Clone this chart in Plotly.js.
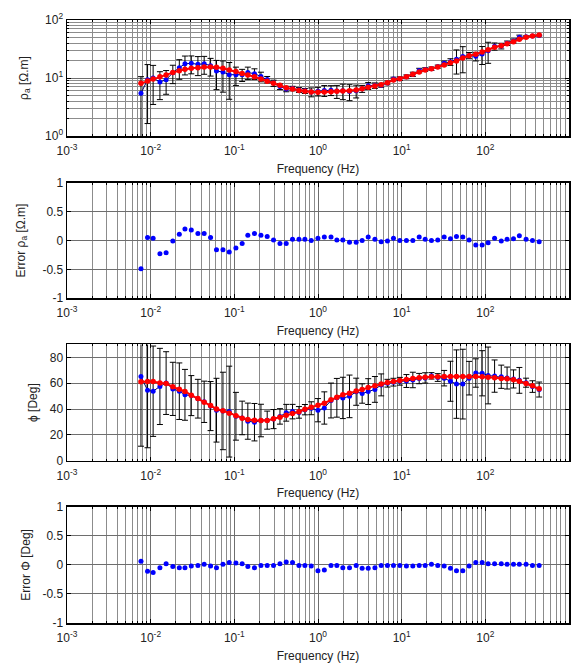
<!DOCTYPE html>
<html>
<head>
<meta charset="utf-8">
<script src="https://cdn.plot.ly/plotly-3.0.1.min.js"></script>
<style>
  html, body { margin: 0; padding: 0; background: #fff; }
  #mtFit { width: 574px; height: 666px; }
</style>
</head>
<body>
<div id="mtFit"></div>
<script>
// frequencies (Hz)
var freq = [0.00766, 0.00918, 0.0107, 0.0129, 0.0153, 0.0184, 0.0220, 0.0257, 0.0306, 0.0367,
    0.0436, 0.0520, 0.0612, 0.0731, 0.0869, 0.1045, 0.124, 0.145, 0.174, 0.208,
    0.247, 0.294, 0.351, 0.417, 0.496, 0.592, 0.697, 0.830, 0.998, 1.19,
    1.43, 1.68, 1.98, 2.38, 2.86, 3.37, 3.98, 4.79, 5.69, 6.76,
    7.98, 9.51, 11.4, 13.6, 16.2, 19.1, 22.7, 27.0, 32.2, 38.3,
    45.2, 53.8, 64.0, 76.9, 91.6, 108, 129, 155, 182, 217,
    255, 307, 366, 440];

// apparent resistivity: observed, its error bar, model response
var rhoObs = [5.44, 9.34, 10.0, 8.54, 9.34, 12.3, 15.1, 17.6, 17.9, 17.2,
    17.6, 16.3, 13.2, 12.7, 11.4, 11.4, 11.4, 12.4, 11.9, 10.6,
    9.43, 8.17, 7.12, 6.49, 6.59, 6.24, 6.01, 5.74, 5.90, 6.11,
    6.18, 5.95, 6.03, 5.87, 6.03, 6.55, 7.35, 7.43, 7.53, 8.24,
    9.64, 9.75, 10.5, 11.6, 13.5, 14.0, 14.5, 15.7, 17.9, 19.0,
    21.1, 23.5, 24.5, 23.7, 26.0, 29.6, 35.2, 35.7, 39.9, 43.6,
    50.4, 51.3, 53.0, 54.0];
var rhoErr = [5.1, 7.7, 6.5, 4.3, 4.1, 4.3, 5.6, 6.3, 6.1, 6.2,
    6.0, 5.5, 6.9, 7.0, 7.1, 4.0, 2.7, 3.0, 2.5, 2.0,
    1.2, 1.0, 0.8, 0.7, 0.6, 0.6, 0.6, 1.0, 1.0, 1.3,
    1.2, 1.5, 1.8, 1.8, 1.5, 0.9, 1.0, 0.8, 0.6, 0.6,
    0.7, 0.7, 0.8, 1.0, 1.2, 1.0, 1.0, 1.0, 1.7, 2.5,
    9.4, 11.2, 3.0, 4.0, 8.9, 11.7, 5.0, 4.0, 3.5, 3.5,
    4.5, 2.0, 1.0, 1.0];
var rhoModel = [8.09, 8.87, 9.61, 10.5, 11.3, 12.4, 13.4, 14.1, 14.7, 15.1,
    15.5, 15.5, 15.3, 14.7, 13.7, 12.9, 12.0, 11.3, 10.5, 9.61,
    8.77, 8.09, 7.48, 6.81, 6.46, 6.12, 5.89, 5.74, 5.66, 5.74,
    5.81, 5.89, 5.97, 6.05, 6.21, 6.55, 6.91, 7.28, 7.68, 8.32,
    9.25, 9.75, 10.5, 11.6, 12.7, 13.7, 14.5, 15.5, 16.8, 18.4,
    19.6, 22.1, 24.3, 25.6, 28.1, 30.8, 33.8, 36.1, 39.1, 42.3,
    46.4, 50.3, 53.0, 55.1];
var rhoMisfit = [-0.49, 0.05, 0.04, -0.23, -0.21, -0.01, 0.11, 0.20, 0.18, 0.12,
    0.12, 0.05, -0.16, -0.16, -0.20, -0.13, -0.05, 0.09, 0.12, 0.09,
    0.07, 0.01, -0.05, -0.05, 0.02, 0.02, 0.02, 0.00, 0.04, 0.06,
    0.06, 0.01, 0.01, -0.03, -0.03, 0.00, 0.06, 0.02, -0.02, -0.01,
    0.04, 0.00, 0.00, 0.00, 0.06, 0.02, 0.00, 0.01, 0.06, 0.03,
    0.07, 0.06, 0.01, -0.08, -0.08, -0.04, 0.04, -0.01, 0.02, 0.03,
    0.08, 0.02, 0.00, -0.02];

// phase (deg): observed, error bar, model response
var phaseObs = [65.2, 54.5, 53.8, 57.5, 60.1, 55.6, 53.8, 51.0, 50.4, 48.0,
    45.6, 42.3, 39.1, 38.5, 38.0, 34.4, 33.1, 30.6, 29.8, 31.1,
    31.4, 32.2, 34.3, 37.1, 38.0, 37.4, 39.5, 40.6, 39.1, 40.8,
    46.6, 48.7, 48.6, 49.8, 53.4, 52.0, 53.5, 55.2, 58.7, 60.0,
    60.8, 61.5, 61.7, 62.5, 63.6, 64.1, 65.7, 64.4, 63.9, 61.5,
    59.3, 59.3, 63.9, 67.9, 67.7, 66.0, 65.5, 65.0, 64.0, 63.3,
    62.2, 60.4, 57.4, 55.1];
var phaseErr = [54, 44.5, 35, 29.5, 24.3, 20.6, 21.9, 19.7, 15.5, 15,
    16, 19, 24.7, 30, 35.2, 18.5, 13, 14, 14.5, 12.6,
    7, 7.4, 6, 6.5, 5.6, 4.5, 4, 5, 9, 12.5,
    13.5, 15, 16, 16.5, 10.5, 7.5, 10, 10, 8.5, 3,
    3, 3, 5, 6, 4, 4, 2.5, 3, 6, 15.5,
    26.5, 27, 13, 11, 17.5, 22, 12.5, 9, 8.5, 7,
    10, 3.5, 4.5, 5.8];
var phaseModel = [61.1, 61.4, 61.4, 60.1, 59.8, 57.2, 55.4, 53.6, 50.7, 48.2,
    45.3, 42.7, 40.1, 38.6, 36.8, 34.7, 32.9, 31.8, 31.3, 31.1,
    31.1, 32.4, 33.7, 35.2, 36.5, 37.8, 39.9, 41.4, 43.0, 44.5,
    47.1, 49.2, 51.0, 52.3, 53.9, 55.1, 56.7, 58.0, 59.3, 60.6,
    61.4, 62.1, 62.9, 63.7, 64.2, 64.7, 65.0, 65.0, 65.2, 65.2,
    65.2, 65.2, 65.2, 65.2, 65.0, 64.7, 64.2, 63.7, 63.4, 62.7,
    61.6, 59.8, 58.0, 55.7];
var phaseMisfit = [0.06, -0.11, -0.13, -0.05, 0.02, -0.03, -0.05, -0.05, -0.02, -0.01,
    0.01, -0.02, -0.05, 0.01, 0.04, 0.03, 0.02, -0.03, -0.05, -0.01,
    -0.01, -0.01, 0.02, 0.05, 0.04, -0.01, -0.01, -0.02, -0.10, -0.09,
    -0.01, -0.01, -0.05, -0.05, -0.01, -0.06, -0.06, -0.05, -0.01, -0.01,
    -0.01, -0.01, -0.02, -0.02, -0.01, -0.01, 0.01, -0.01, -0.02, -0.06,
    -0.10, -0.10, -0.02, 0.04, 0.04, 0.02, 0.02, 0.02, 0.01, 0.01,
    0.01, 0.01, -0.01, -0.01];

// tick labels
var freqTicks = [0.001, 0.01, 0.1, 1, 10, 100, 1000];
var freqLabels = ['10<sup>-3</sup>', '10<sup>-2</sup>', '10<sup>-1</sup>', '10<sup>0</sup>',
    '10<sup>1</sup>', '10<sup>2</sup>', '10<sup>3</sup>'];
var rhoTicks = [1, 10, 100];
var rhoLabels = ['10<sup>0</sup>', '10<sup>1</sup>', '10<sup>2</sup>'];
var misfitTicks = [-1, -0.5, 0, 0.5, 1];
var misfitLabels = ['-1', '-0.5', '0', '0.5', '1'];
var phaseTicks = [0, 20, 40, 60, 80];

// minor log positions 2..9 in each decade
function minorLog(d0, d1) {
    var out = [];
    for (var d = d0; d < d1; d++) {
        for (var k = 2; k < 10; k++) out.push(k * Math.pow(10, d));
    }
    return out;
}

var font = '"Liberation Sans", Arial, sans-serif';
var majorGrid = '#6e6e6e';
var minorGrid = '#8c8c8c';

function frame(extra) {
    var ax = {
        ticks: 'inside', ticklen: 4, tickcolor: '#000', tickwidth: 1,
        showline: true, linecolor: '#000', linewidth: 1.5, mirror: 'ticks',
        showgrid: true, gridcolor: majorGrid, gridwidth: 1,
        zeroline: false,
        tickfont: {family: font, size: 12, color: '#222'}
    };
    for (var k in extra) ax[k] = extra[k];
    return ax;
}

function freqAxis(anchor) {
    return frame({
        type: 'log', range: [-3, 3], anchor: anchor,
        tickmode: 'array', tickvals: freqTicks, ticktext: freqLabels,
        ticklabelstandoff: 3,
        minor: {tickmode: 'array', tickvals: minorLog(-3, 3), ticks: 'inside', ticklen: 2,
            tickcolor: '#000', showgrid: true, gridcolor: minorGrid, gridwidth: 1},
        title: {text: 'Frequency (Hz)', font: {family: font, size: 12, color: '#222'}, standoff: 7}
    });
}

function yTitle(txt, gap) {
    return {text: txt, font: {family: font, size: 12, color: '#222'}, standoff: gap};
}

var dataLine = {color: '#000060', width: 1};
var blueDot = {color: '#0000ff', size: 5};
var redDot = {color: '#ff0000', size: 5.5};

var traces = [
    {
        x: freq, y: rhoObs, xaxis: 'x', yaxis: 'y',
        type: 'scatter', mode: 'lines+markers',
        line: dataLine, marker: blueDot,
        error_y: {type: 'data', array: rhoErr, visible: true, color: '#000', thickness: 1, width: 3}
    },
    {
        x: freq, y: rhoModel, xaxis: 'x', yaxis: 'y',
        type: 'scatter', mode: 'lines+markers',
        line: {color: '#ff0000', width: 2}, marker: redDot
    },
    {
        x: freq, y: rhoMisfit, xaxis: 'x2', yaxis: 'y2',
        type: 'scatter', mode: 'markers', marker: blueDot
    },
    {
        x: freq, y: phaseObs, xaxis: 'x3', yaxis: 'y3',
        type: 'scatter', mode: 'lines+markers',
        line: dataLine, marker: blueDot,
        error_y: {type: 'data', array: phaseErr, visible: true, color: '#000', thickness: 1, width: 3}
    },
    {
        x: freq, y: phaseModel, xaxis: 'x3', yaxis: 'y3',
        type: 'scatter', mode: 'lines+markers',
        line: {color: '#ff0000', width: 2}, marker: redDot
    },
    {
        x: freq, y: phaseMisfit, xaxis: 'x4', yaxis: 'y4',
        type: 'scatter', mode: 'markers', marker: blueDot
    }
];

var layout = {
    width: 574,
    height: 666,
    showlegend: false,
    paper_bgcolor: '#fff',
    plot_bgcolor: '#fff',
    font: {family: font, size: 12, color: '#222'},
    margin: {l: 67, r: 5, t: 20, b: 43},

    xaxis: freqAxis('y'),
    xaxis2: freqAxis('y2'),
    xaxis3: freqAxis('y3'),
    xaxis4: freqAxis('y4'),

    yaxis: frame({
        type: 'log', range: [0, 2], domain: [0.8076, 1], anchor: 'x',
        tickmode: 'array', tickvals: rhoTicks, ticktext: rhoLabels,
        minor: {tickmode: 'array', tickvals: minorLog(0, 2), ticks: 'inside', ticklen: 2,
            tickcolor: '#000', showgrid: true, gridcolor: minorGrid, gridwidth: 1},
        title: yTitle('\u03c1<sub>a</sub> [\u03a9.m]', 14)
    }),
    yaxis2: frame({
        range: [-1, 1], domain: [0.5385, 0.7302], anchor: 'x2',
        tickmode: 'array', tickvals: misfitTicks, ticktext: misfitLabels,
        title: yTitle('Error \u03c1<sub>a</sub> [\u03a9.m]', 14)
    }),
    yaxis3: frame({
        range: [0, 90], domain: [0.2692, 0.4619], anchor: 'x3',
        tickmode: 'array', tickvals: phaseTicks,
        title: yTitle('\u03d5 [Deg]', 9)
    }),
    yaxis4: frame({
        range: [-1, 1], domain: [0, 0.1929], anchor: 'x4',
        tickmode: 'array', tickvals: misfitTicks, ticktext: misfitLabels,
        title: yTitle('Error \u03a6 [Deg]', 9)
    })
};

Plotly.newPlot('mtFit', traces, layout, {displayModeBar: false, staticPlot: true});
</script>
</body>
</html>
